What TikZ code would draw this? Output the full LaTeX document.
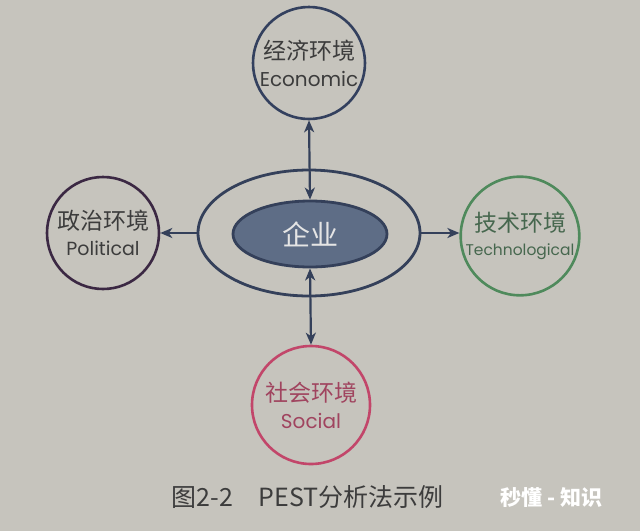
\documentclass[tikz,border=0pt]{standalone}
\usepackage{fontspec}
\setmainfont{Poppins}
\newfontfamily\cjk{Noto Sans CJK SC}
\usetikzlibrary{shapes.geometric,arrows.meta}
\definecolor{paper}{HTML}{C6C4BD}
\definecolor{navy}{HTML}{34405A}
\definecolor{econ}{HTML}{33405E}
\definecolor{pol}{HTML}{3B2843}
\definecolor{tech}{HTML}{4F8A5C}
\definecolor{soc}{HTML}{C2466A}
\definecolor{corefill}{HTML}{5E6D86}
\definecolor{txt}{HTML}{3C3C3C}
\tikzset{
  envcircle/.style={circle, line width=2.6pt, minimum size=112pt, inner sep=0pt, align=center, fill=paper},
  link/.style={navy, line width=2.2pt, -{Stealth[length=12pt,width=10pt,inset=3.5pt]}},
  blink/.style={navy, line width=2.2pt, {Stealth[length=12pt,width=10pt,inset=3.5pt]}-{Stealth[length=12pt,width=10pt,inset=3.5pt]}}
}
\begin{document}
\begin{tikzpicture}[x=1pt,y=-1pt]
\fill[paper] (0,0) rectangle (640,531);
\useasboundingbox (0,0) rectangle (640,531);

\node[ellipse, draw=navy, line width=2.8pt, minimum width=222pt, minimum height=126pt, inner sep=0pt] (outer) at (309,233) {};
\node[ellipse, draw=navy, line width=2.8pt, fill=corefill, minimum width=154pt, minimum height=66pt, inner sep=0pt,
      text=white!80!gray, font=\cjk\fontsize{28}{28}\selectfont] (core) at (310,234) {企业};

\node[envcircle, draw=econ, text=txt] (eco) at (309,63)
  {{\cjk\fontsize{23}{23}\selectfont 经济环境}\\[9pt]{\fontsize{20}{20}\selectfont Economic}};
\node[envcircle, draw=pol, text=txt] (poli) at (103,233)
  {{\cjk\fontsize{23}{23}\selectfont 政治环境}\\[9pt]{\fontsize{19}{19}\selectfont Political}};
\node[envcircle, draw=tech, text=tech!55!txt] (techn) at (520,236)
  {{\cjk\fontsize{23}{23}\selectfont 技术环境}\\[9pt]{\fontsize{15.5}{15.5}\selectfont Technological}};
\node[envcircle, draw=soc, text=soc!75!txt, minimum size=118pt] (soci) at (311,405)
  {{\cjk\fontsize{23}{23}\selectfont 社会环境}\\[9pt]{\fontsize{20}{20}\selectfont Social}};

\draw[blink] (eco.south) -- (core.north);
\draw[blink] (core.south) -- (soci.north);
\draw[link] (outer.west) -- (poli.east);
\draw[link] (outer.east) -- (outer.east -| techn.west);

\node[text=txt, font=\cjk\fontsize{25}{25}\selectfont, anchor=west] (cap) at (168,497) {图2-2\hspace{26pt}PEST分析法示例};
\node[text=white, font=\cjk\bfseries\fontsize{21}{21}\selectfont, anchor=west] (wm) at (497,498) {秒懂 - 知识};
\end{tikzpicture}
\end{document}
